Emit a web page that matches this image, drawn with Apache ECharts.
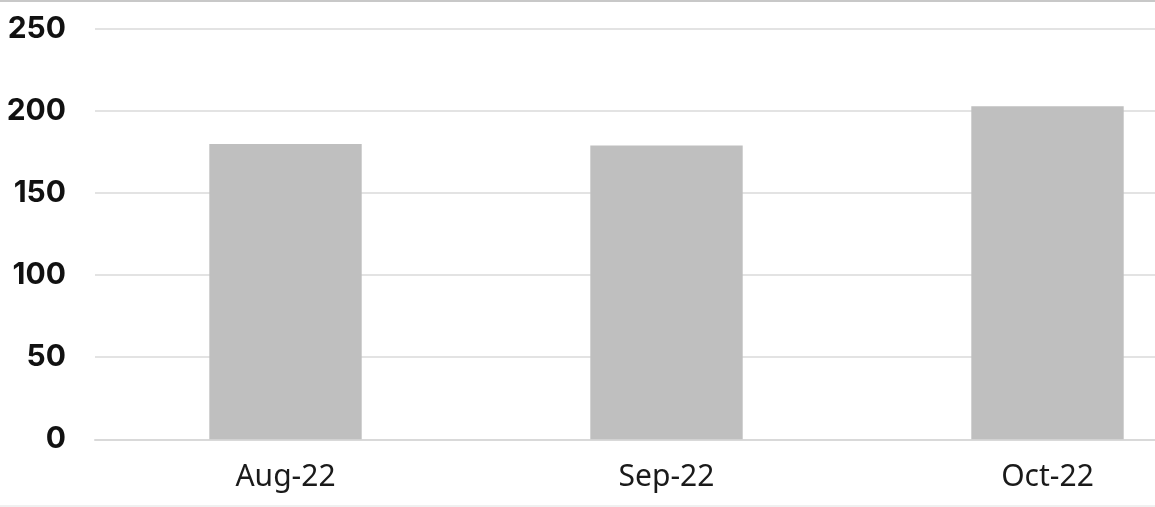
<!DOCTYPE html>
<html><head><meta charset="utf-8">
<script src="https://cdn.jsdelivr.net/npm/echarts@6/dist/echarts.min.js"></script>
<style>html,body{margin:0;padding:0;background:#fff;overflow:hidden;width:1155px;height:507px}#c{width:1238px;height:507px}</style>
</head><body><div id="c"></div>
<script>
const categories = ['Aug-22', 'Sep-22', 'Oct-22'];
const values = [180, 179, 203];
const yTicks = [0, 50, 100, 150, 200, 250];

const chart = echarts.init(document.getElementById('c'), null, {renderer: 'canvas'});
chart.setOption({
  animation: false,
  backgroundColor: '#ffffff',
  grid: {left: 95, right: 0, top: 29, bottom: 67.7, containLabel: false},
  graphic: [
    {type: 'rect', shape: {x: 0, y: 0, width: 1238, height: 2}, style: {fill: '#c8c8c8'}},
    {type: 'rect', shape: {x: 0, y: 505, width: 1238, height: 2}, style: {fill: '#f0f0f0'}}
  ],
  xAxis: {
    type: 'category', data: categories,
    axisLine: {show: true, lineStyle: {color: '#d9d9d9', width: 2}},
    axisTick: {show: false},
    axisLabel: {color: '#1a1a1a', fontFamily: 'Noto Sans', fontSize: 30, margin: 23}
  },
  yAxis: {
    type: 'value', min: yTicks[0], max: yTicks[yTicks.length - 1], interval: 50,
    axisLine: {show: false}, axisTick: {show: false},
    splitLine: {lineStyle: {color: '#e3e3e3', width: 2}},
    axisLabel: {color: '#111', fontFamily: 'Inter', fontWeight: 'bold', fontSize: 30, margin: 29}
  },
  series: [{
    type: 'bar', data: values, barWidth: '40%',
    itemStyle: {color: '#bfbfbf'}
  }]
});
</script></body></html>
